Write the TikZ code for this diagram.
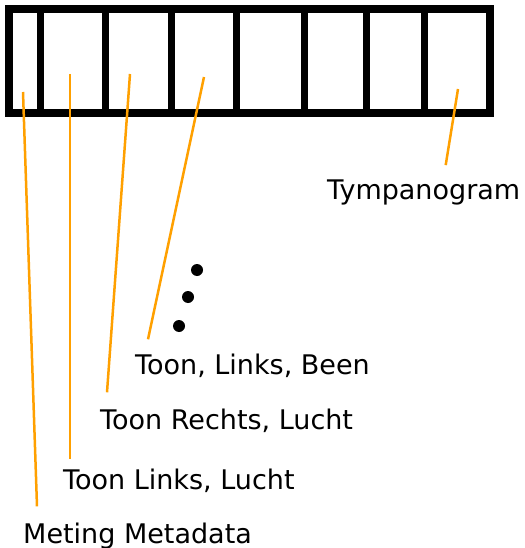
\documentclass[tikz,border=0pt]{standalone}
\usepackage{fontspec}
\setmainfont{DejaVu Sans}
\usepackage{tikz}
\definecolor{leadorange}{RGB}{255,160,0}

\begin{document}
\begin{tikzpicture}[
      x=1pt, y=-1pt,
      frame/.style={draw, line width=8pt},
      wall/.style={draw, line width=7pt},
      lead/.style={draw=leadorange, line width=2.5pt},
      lbl/.style={anchor=base west, inner sep=0pt, font=\fontsize{27}{31}\selectfont},
      dot/.style={circle, fill=black, inner sep=0pt, minimum width=12pt}
    ]
      \useasboundingbox (0,0) rectangle (524,548);

      % record with its cells
      \draw[frame] (9,9) rectangle (490,113);
      \foreach \x in {40.5,105.5,171.5,236.5,304.5,366.5,424.5} {
        \draw[wall] (\x,12) -- (\x,110);
      }

      % free ends inside the cells
      \coordinate (c1) at (23,92);
      \coordinate (c2) at (70,74);
      \coordinate (c3) at (130,74);
      \coordinate (c4) at (204,77);
      \coordinate (c8) at (458,89);

      % labels
      \node[lbl] (tymp) at (327,199) {Tympanogram};
      \node[lbl] (been) at (135,374) {Toon, Links, Been};
      \node[lbl] (rlucht) at (100,429) {Toon Rechts, Lucht};
      \node[lbl] (llucht) at (63,489) {Toon Links, Lucht};
      \node[lbl] (meta) at (23,543) {Meting Metadata};

      % more fields
      \foreach \x/\y in {197/270,188/297,179/326} {
        \node[dot] (d\x) at (\x,\y){};
      }

      \draw[lead] (c1) -- ([xshift=14pt,yshift=16pt]meta.north west);
      \draw[lead] (c2) -- ([xshift=7pt,yshift=9pt]llucht.north west);
      \draw[lead] (c3) -- ([xshift=7pt,yshift=16pt]rlucht.north west);
      \draw[lead] (c4) -- ([xshift=13pt,yshift=14pt]been.north west);
      \draw[lead] (c8) -- ([xshift=22pt,yshift=14pt]tymp.north);
    \end{tikzpicture}
\end{document}
